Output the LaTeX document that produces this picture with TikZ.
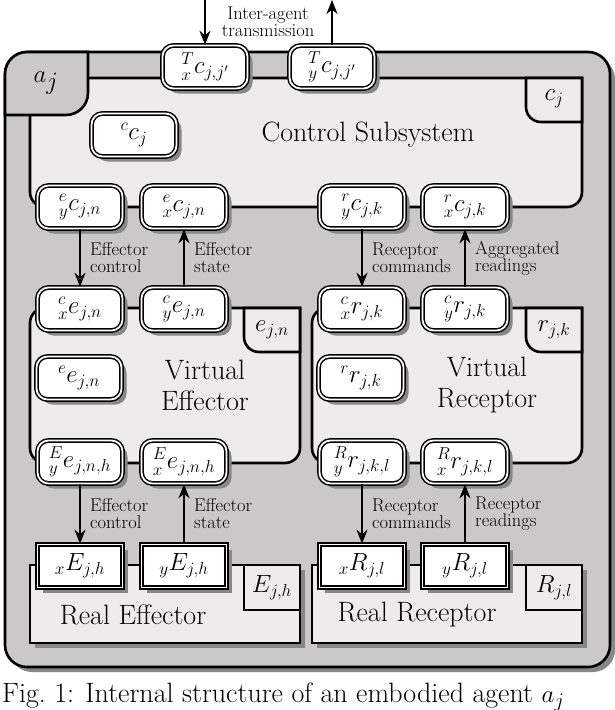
\documentclass[tikz,border=0pt]{standalone}
\usetikzlibrary{shadows,arrows.meta}
\definecolor{agent}{RGB}{202,200,200}
\definecolor{light}{RGB}{237,235,235}
\definecolor{shd}{RGB}{135,135,135}
\begin{document}
\begin{tikzpicture}[x=1pt,y=-1pt,
  box/.style={draw=black,line width=2.6pt,fill=light},
  port/.style={draw=black,fill=white,line width=1.5pt,double=white,double distance=1.8pt,
    rounded corners=11pt,minimum width=85pt,minimum height=43pt,inner sep=1pt,
    font=\fontsize{25}{28}\selectfont,
    drop shadow={shadow xshift=5pt,shadow yshift=-5pt,fill=shd,opacity=1}},
  sport/.style={port,rounded corners=0pt},
  big/.style={font=\fontsize{28}{31}\selectfont,align=center},
  lbl/.style={font=\fontsize{18.5}{17}\selectfont,align=left,inner sep=2pt},
  arr/.style={line width=2.4pt,-{Stealth[length=14pt,width=11pt]}},
  tabt/.style={font=\fontsize{25}{28}\selectfont}]
\useasboundingbox (0,0) rectangle (614,710);
% agent
\draw[box,fill=agent,rounded corners=22pt,drop shadow={shadow xshift=5pt,shadow yshift=-5pt,fill=shd,opacity=1}] (5,52) rectangle (610,667);
% control subsystem
\draw[box] (30,78) [rounded corners=15pt] -- (30,207) -- (582,207) [sharp corners] -- (582,78) -- cycle;
\draw[box] (526,78) [rounded corners=15pt] -- (526,122) [sharp corners] -- (582,122) -- (582,78) -- cycle;
\node[tabt] (cjt) at (554,99) {$c_j$};
% a_j tab
\draw[box,fill=agent] (5,115) [rounded corners=22pt] -- (5,52) [sharp corners] -- (88,52) [rounded corners=22pt] -- (88,115) [sharp corners] -- cycle;
\node[font=\fontsize{36}{40}\selectfont] (ajt) at (46,83) {$a_j$};
\node[big] (cs) at (368,135) {Control Subsystem};
% virtual effector / receptor
\foreach \x/\n in {30/ve,312/vr}{
  \draw[box] (\x,463) [rounded corners=15pt] -- (\x,308) [sharp corners] -- (\x+270,308) [rounded corners=15pt] -- (\x+270,463) -- cycle;
  \draw[box] (\x+214,308) [rounded corners=15pt] -- (\x+214,352) [sharp corners] -- (\x+270,352) -- (\x+270,308) -- cycle;
}
\node[tabt] (ejt) at (272,330) {$e_{j,n}$};
\node[tabt] (rjt) at (554,330) {$r_{j,k}$};
\node[big] (vet) at (205,385) {Virtual\\Effector};
\node[big] (vrt) at (487,385) {Virtual\\Receptor};
% real effector / receptor
\foreach \x in {30,312}{
  \draw[box,drop shadow={shadow xshift=5pt,shadow yshift=-5pt,fill=shd,opacity=1}] (\x,565) rectangle (\x+270,643);
  \draw[box] (\x+214,565) rectangle (\x+270,610);
}
\node[tabt] (Ejt) at (272,588) {$E_{j,h}$};
\node[tabt] (Rjt) at (554,588) {$R_{j,l}$};
\node[big] (ret) at (133,615) {Real Effector};
\node[big] (rrt) at (417,615) {Real Receptor};
% ports
\node[port] (Tx) at (205,67) {${}^{T}_{x}c_{j,j'}$};
\node[port] (Ty) at (332,67) {${}^{T}_{y}c_{j,j'}$};
\node[port] (cc) at (134,135) {${}^{c}c_{j}$};
\node[port] (eyc) at (80,207) {${}^{e}_{y}c_{j,n}$};
\node[port] (exc) at (184,207) {${}^{e}_{x}c_{j,n}$};
\node[port] (ryc) at (362,207) {${}^{r}_{y}c_{j,k}$};
\node[port] (rxc) at (465,207) {${}^{r}_{x}c_{j,k}$};
\node[port] (cxe) at (80,309) {${}^{c}_{x}e_{j,n}$};
\node[port] (cye) at (184,309) {${}^{c}_{y}e_{j,n}$};
\node[port] (cxr) at (362,309) {${}^{c}_{x}r_{j,k}$};
\node[port] (cyr) at (465,309) {${}^{c}_{y}r_{j,k}$};
\node[port] (ee) at (79,378) {${}^{e}e_{j,n}$};
\node[port] (rr) at (361,378) {${}^{r}r_{j,k}$};
\node[port] (Eye) at (80,462) {${}^{E}_{y}e_{j,n,h}$};
\node[port] (Exe) at (184,462) {${}^{E}_{x}e_{j,n,h}$};
\node[port] (Ryr) at (362,462) {${}^{R}_{y}r_{j,k,l}$};
\node[port] (Rxr) at (465,462) {${}^{R}_{x}r_{j,k,l}$};
\node[sport] (xE) at (80,566) {${}_{x}E_{j,h}$};
\node[sport] (yE) at (184,566) {${}_{y}E_{j,h}$};
\node[sport] (xR) at (362,566) {${}_{x}R_{j,l}$};
\node[sport] (yR) at (465,566) {${}_{y}R_{j,l}$};
% inter-agent
\coordinate (top1) at (205,0);
\coordinate (top2) at (332,0);
\draw[arr] (top1) -- (Tx);
\draw[arr] (Ty) -- (top2);
\node[lbl,align=center] (ia) at (268,22) {Inter-agent\\transmission};
% arrows
\draw[arr] (eyc) -- (cxe);
\draw[arr] (cye) -- (exc);
\draw[arr] (ryc) -- (cxr);
\draw[arr] (cyr) -- (rxc);
\draw[arr] (Eye) -- (xE);
\draw[arr] (yE) -- (Exe);
\draw[arr] (Ryr) -- (xR);
\draw[arr] (yR) -- (Rxr);
\node[lbl,anchor=west] (l1) at (88,258) {Effector\\control};
\node[lbl,anchor=west] (l2) at (192,258) {Effector\\state};
\node[lbl,anchor=west] (l3) at (370,258) {Receptor\\commands};
\node[lbl,anchor=west] (l4) at (473,258) {Aggregated\\readings};
\node[lbl,anchor=west] (l5) at (88,514) {Effector\\control};
\node[lbl,anchor=west] (l6) at (192,514) {Effector\\state};
\node[lbl,anchor=west] (l7) at (370,514) {Receptor\\commands};
\node[lbl,anchor=west] (l8) at (473,514) {Receptor\\readings};
% caption
\begin{scope}
\clip (0,0) rectangle (614,710);
\node[anchor=west,font=\fontsize{28}{31}\selectfont,inner sep=0pt] (cap) at (2,697) {Fig.~1: Internal structure of an embodied agent $a_j$};
\end{scope}
\end{tikzpicture}
\end{document}
